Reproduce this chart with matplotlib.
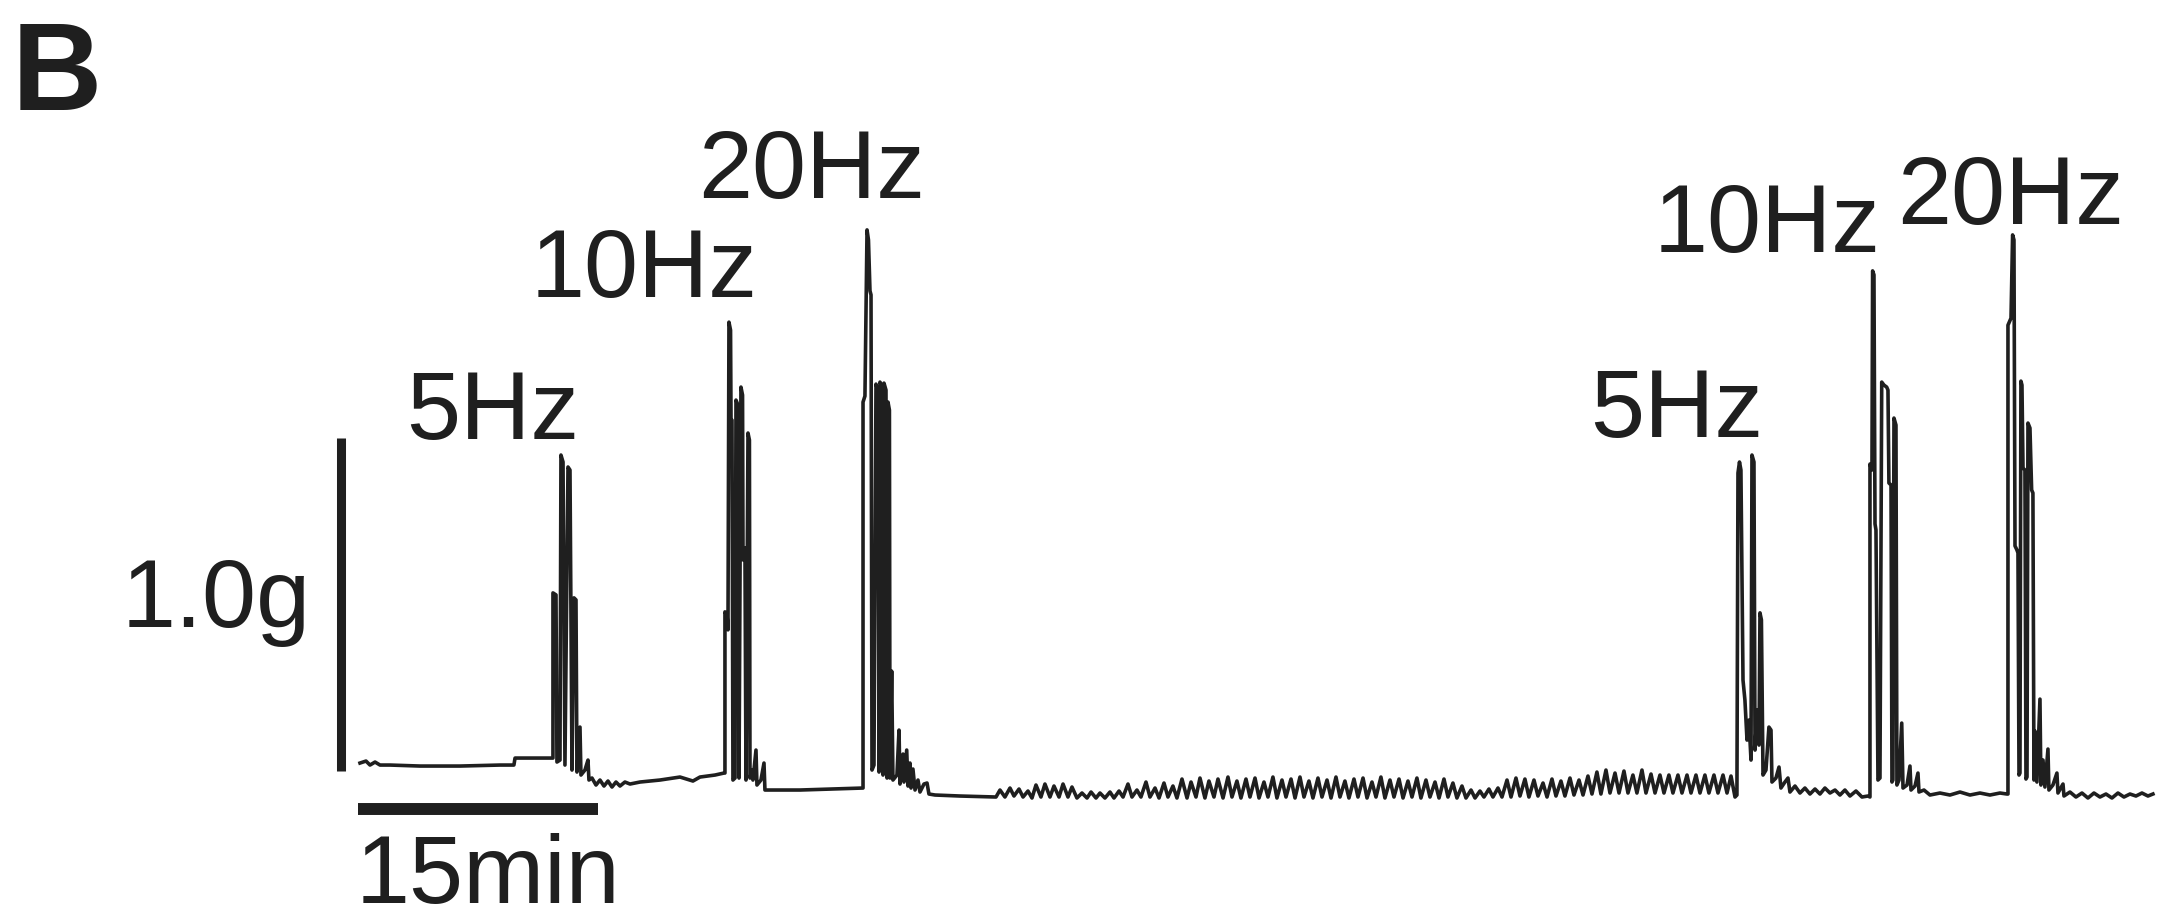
import matplotlib
matplotlib.use("Agg")
import matplotlib.pyplot as plt
import numpy as np

plt.rcParams['font.family'] = ['Liberation Sans', 'DejaVu Sans']

# ---- data: isometric force recording (time in min, force in g) ----
baseline_start = [(0, 0.111), (0.375, 0.117), (0.625, 0.105), (0.94, 0.114), (1.25, 0.105),
                  (1.875, 0.105), (3.75, 0.102), (6.25, 0.102), (8.75, 0.105), (9.62, 0.105),
                  (9.69, 0.126), (12.0, 0.126)]

burst_5hz_a = [(12.06, 0.126), (12.06, 0.622), (12.25, 0.616), (12.31, 0.114), (12.5, 0.120),
               (12.56, 1.036), (12.69, 1.015), (12.81, 0.105), (13.0, 1.000), (13.125, 0.991),
               (13.25, 0.090), (13.375, 0.607), (13.5, 0.601), (13.56, 0.084), (13.75, 0.219),
               (13.81, 0.075), (14.06, 0.090), (14.25, 0.120), (14.31, 0.060), (14.5, 0.066),
               (14.75, 0.045), (15.0, 0.060), (15.25, 0.042), (15.5, 0.057), (15.75, 0.039),
               (16.0, 0.054), (16.25, 0.042), (16.56, 0.054), (16.875, 0.048)]

gap_a = [(17.5, 0.054), (18.75, 0.060), (20.0, 0.069), (20.81, 0.057), (21.25, 0.069),
         (22.19, 0.075), (22.75, 0.081)]

burst_10hz_a = [(22.81, 0.081), (22.81, 0.565), (22.94, 0.556), (23.0, 0.511), (23.06, 1.435),
                (23.16, 1.411), (23.19, 1.141), (23.25, 1.141), (23.31, 0.060), (23.44, 0.066),
                (23.5, 1.201), (23.625, 1.186), (23.69, 0.066), (23.81, 1.240), (23.91, 1.216),
                (23.94, 0.721), (24.06, 0.757), (24.125, 0.060), (24.25, 1.102), (24.34, 1.081),
                (24.375, 0.066), (24.5, 0.090), (24.56, 0.060), (24.75, 0.150), (24.81, 0.045),
                (25.06, 0.060), (25.25, 0.111), (25.31, 0.030)]

gap_b = [(25.625, 0.030), (27.5, 0.030), (29.375, 0.033), (31.375, 0.036)]

burst_20hz_a = [(31.44, 0.036), (31.44, 1.195), (31.56, 1.213), (31.69, 1.712), (31.78, 1.682),
                (31.875, 1.529), (31.94, 1.517), (32.0, 0.090), (32.125, 0.105), (32.25, 1.249),
                (32.375, 1.231), (32.44, 0.084), (32.5, 1.255), (32.625, 1.243), (32.69, 0.075),
                (32.75, 1.252), (32.875, 1.231), (32.94, 0.066), (33.0, 1.195), (33.09, 1.171),
                (33.125, 0.066), (33.23, 0.387), (33.31, 0.060), (33.56, 0.075), (33.69, 0.210),
                (33.75, 0.048), (33.94, 0.138), (34.0, 0.054), (34.17, 0.150), (34.25, 0.042),
                (34.375, 0.111), (34.44, 0.036), (34.56, 0.093), (34.69, 0.030), (34.875, 0.060),
                (35.0, 0.024), (35.25, 0.048), (35.44, 0.051), (35.56, 0.018), (35.94, 0.015)]

quiet = [(37.5, 0.012), (39.75, 0.009)]

spontaneous = [
    (40.0, 0.030), (40.31, 0.009), (40.625, 0.036), (40.875, 0.012), (41.19, 0.033), (41.44, 0.009),
    (41.75, 0.027), (42.0, 0.006), (42.25, 0.045), (42.56, 0.009), (42.81, 0.048), (43.125, 0.009),
    (43.375, 0.042), (43.69, 0.009), (43.94, 0.048), (44.25, 0.009), (44.5, 0.039), (44.81, 0.006),
    (45.125, 0.021), (45.44, 0.006), (45.69, 0.024), (46.0, 0.006), (46.25, 0.021), (46.56, 0.006),
    (46.875, 0.024), (47.125, 0.006), (47.44, 0.027), (47.69, 0.009), (48.0, 0.048), (48.25, 0.009),
    (48.56, 0.030), (48.81, 0.009), (49.125, 0.054), (49.375, 0.009), (49.69, 0.036), (49.94, 0.006),
    (50.25, 0.051), (50.5, 0.009), (50.81, 0.042), (51.06, 0.006), (51.375, 0.063), (51.69, 0.006),
    (51.94, 0.054), (52.25, 0.009), (52.5, 0.066), (52.81, 0.006), (53.06, 0.057), (53.375, 0.009),
    (53.625, 0.063), (53.94, 0.006), (54.25, 0.069), (54.5, 0.009), (54.81, 0.057), (55.06, 0.006),
    (55.375, 0.063), (55.625, 0.009), (55.94, 0.066), (56.19, 0.006), (56.5, 0.054), (56.75, 0.009),
    (57.06, 0.069), (57.31, 0.006), (57.625, 0.060), (57.875, 0.009), (58.19, 0.063), (58.44, 0.006),
    (58.75, 0.069), (59.0, 0.009), (59.31, 0.057), (59.56, 0.006), (59.875, 0.066), (60.125, 0.009),
    (60.44, 0.060), (60.69, 0.006), (61.0, 0.069), (61.25, 0.009), (61.56, 0.057), (61.81, 0.006),
    (62.125, 0.063), (62.375, 0.009), (62.69, 0.066), (62.94, 0.006), (63.25, 0.054), (63.5, 0.009),
    (63.81, 0.069), (64.06, 0.006), (64.375, 0.060), (64.625, 0.009), (64.94, 0.063), (65.19, 0.006),
    (65.5, 0.057), (65.75, 0.009), (66.06, 0.066), (66.31, 0.006), (66.625, 0.060), (66.875, 0.009),
    (67.19, 0.054), (67.44, 0.006), (67.75, 0.063), (68.0, 0.009), (68.31, 0.051), (68.56, 0.006),
    (68.875, 0.042), (69.125, 0.006), (69.44, 0.030), (69.69, 0.006), (70.0, 0.027), (70.25, 0.009),
    (70.56, 0.033), (70.81, 0.009), (71.125, 0.036), (71.375, 0.009), (71.69, 0.060), (71.94, 0.009),
    (72.25, 0.066), (72.5, 0.012), (72.81, 0.063), (73.06, 0.009), (73.375, 0.060), (73.625, 0.012),
    (73.94, 0.051), (74.19, 0.009), (74.5, 0.063), (74.75, 0.012), (75.06, 0.057), (75.31, 0.012),
    (75.625, 0.066), (75.875, 0.015), (76.19, 0.060), (76.44, 0.015), (76.75, 0.072), (77.0, 0.018),
    (77.31, 0.084), (77.56, 0.018), (77.875, 0.090), (78.125, 0.021), (78.44, 0.081), (78.69, 0.021),
    (79.0, 0.087), (79.25, 0.021), (79.56, 0.075), (79.81, 0.021), (80.125, 0.090), (80.375, 0.021),
    (80.69, 0.078), (80.94, 0.021), (81.25, 0.075), (81.5, 0.021), (81.81, 0.075), (82.06, 0.021),
    (82.375, 0.075), (82.625, 0.021), (82.94, 0.075), (83.19, 0.021), (83.5, 0.075), (83.75, 0.021),
    (84.06, 0.075), (84.31, 0.021), (84.625, 0.075), (84.875, 0.021), (85.19, 0.075), (85.44, 0.021),
    (85.69, 0.072), (85.94, 0.009)]

burst_5hz_b = [(86.06, 0.015), (86.125, 0.982), (86.22, 1.015), (86.31, 0.991), (86.44, 0.360),
               (86.56, 0.300), (86.69, 0.180), (86.81, 0.240), (86.94, 0.120), (87.0, 1.036),
               (87.125, 1.015), (87.19, 0.150), (87.31, 0.270), (87.44, 0.165), (87.5, 0.562),
               (87.59, 0.541), (87.69, 0.075), (87.875, 0.090), (88.06, 0.219), (88.19, 0.210),
               (88.25, 0.054), (88.5, 0.066), (88.69, 0.099), (88.81, 0.036), (89.06, 0.054),
               (89.25, 0.066), (89.375, 0.024), (89.69, 0.042), (90.0, 0.021), (90.31, 0.036),
               (90.625, 0.018), (90.94, 0.033), (91.25, 0.018), (91.56, 0.036), (91.875, 0.021),
               (92.19, 0.030), (92.5, 0.015), (92.81, 0.030), (93.125, 0.012), (93.5, 0.027),
               (93.875, 0.009), (94.25, 0.012)]

burst_10hz_b = [(94.375, 0.009), (94.375, 1.009), (94.5, 0.991), (94.54, 1.589), (94.625, 1.577),
                (94.69, 0.829), (94.75, 0.811), (94.875, 0.060), (95.0, 0.066), (95.11, 1.255),
                (95.25, 1.246), (95.42, 1.240), (95.5, 1.231), (95.56, 0.952), (95.69, 0.946),
                (95.75, 0.054), (95.81, 0.060), (95.875, 1.147), (96.0, 1.126), (96.06, 0.045),
                (96.19, 0.060), (96.36, 0.231), (96.44, 0.036), (96.69, 0.045), (96.875, 0.102),
                (96.94, 0.030), (97.19, 0.042), (97.375, 0.081), (97.44, 0.024), (97.75, 0.030),
                (98.125, 0.015), (98.75, 0.021), (99.375, 0.015), (100.0, 0.024), (100.625, 0.015),
                (101.25, 0.021), (101.875, 0.015), (102.5, 0.021), (102.94, 0.018)]

burst_20hz_b = [(103.0, 0.018), (103.0, 1.426), (103.19, 1.447), (103.29, 1.697), (103.375, 1.682),
                (103.44, 0.763), (103.56, 0.751), (103.625, 0.742), (103.69, 0.075), (103.75, 0.081),
                (103.81, 1.258), (103.875, 1.246), (103.94, 0.997), (104.06, 0.991), (104.125, 0.063),
                (104.19, 0.069), (104.25, 1.132), (104.375, 1.117), (104.48, 0.931), (104.56, 0.922),
                (104.625, 0.060), (104.69, 0.207), (104.81, 0.054), (105.0, 0.303), (105.06, 0.045),
                (105.19, 0.120), (105.31, 0.039), (105.5, 0.153), (105.56, 0.030), (105.81, 0.045),
                (106.06, 0.081), (106.125, 0.021), (106.44, 0.048), (106.5, 0.012), (106.875, 0.024),
                (107.25, 0.009), (107.625, 0.021), (108.0, 0.006), (108.375, 0.021), (108.75, 0.009),
                (109.125, 0.018), (109.5, 0.006), (109.875, 0.021), (110.25, 0.009), (110.625, 0.018),
                (111.0, 0.012), (111.375, 0.021), (111.75, 0.012), (112.06, 0.018)]

stim_labels = ['5Hz', '10Hz', '20Hz', '5Hz', '10Hz', '20Hz']
scale_time_min = 15
scale_force_g = 1.0
scale_time_label = '15min'
scale_force_label = '1.0g'
panel_label = 'B'

# ---- layout (axis units: minutes / grams) ----
segments = [baseline_start, burst_5hz_a, gap_a, burst_10hz_a, gap_b, burst_20hz_a, quiet,
            spontaneous, burst_5hz_b, burst_10hz_b, burst_20hz_b]
trace = np.array([p for seg in segments for p in seg])

INK = '#1f1f1f'
W, H, DPI = 2167, 916, 100
fig = plt.figure(figsize=(W / DPI, H / DPI), dpi=DPI)
ax = fig.add_axes([0, 0, 1, 1])
ax.set_xlim(-22.5, 112.94)
ax.set_ylim(-0.3483, 2.4024)
ax.axis('off')

ax.plot(trace[:, 0], trace[:, 1], color=INK, lw=2.6, solid_joinstyle='round')

# scale bars
ax.plot([-1.16, -1.16], [0.087, 0.087 + scale_force_g], color=INK, lw=6.5, solid_capstyle='butt')
ax.plot([-0.125, -0.125 + scale_time_min], [-0.027, -0.027], color=INK, lw=8.6, solid_capstyle='butt')
ax.text(-3.1, 0.52, scale_force_label, ha='right', va='baseline', fontsize=70, color=INK)
ax.text(-0.3, -0.31, scale_time_label, ha='left', va='baseline', fontsize=70, color=INK)

label_pos = [(8.28, 1.084), (17.78, 1.51), (28.25, 1.808), (82.31, 1.090), (87.94, 1.646), (103.19, 1.73)]
for lab, (lx, ly) in zip(stim_labels, label_pos):
    ax.text(lx, ly, lab, ha='center', va='baseline', fontsize=70, color=INK)

fig.text(12 / W, 1 - 110 / H, panel_label, ha='left', va='baseline', fontsize=90,
         fontweight='bold', color=INK)

fig.savefig('out.png', dpi=DPI, facecolor='white')
